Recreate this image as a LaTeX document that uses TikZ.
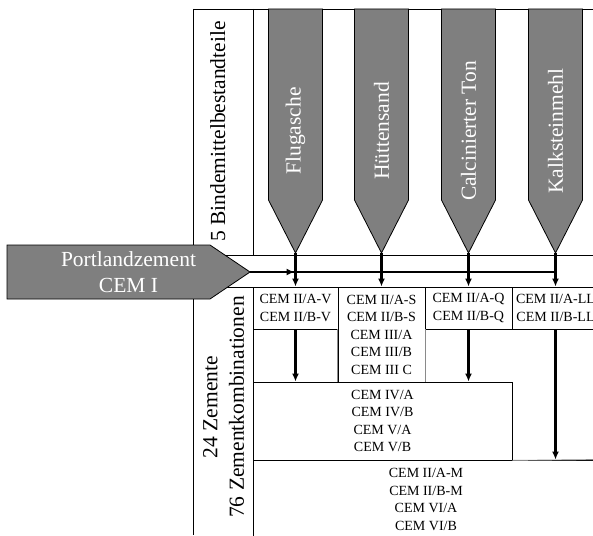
\documentclass[tikz,border=0pt]{standalone}
\usepackage{fontspec}
\setmainfont{Liberation Serif}
\usetikzlibrary{arrows.meta}
\definecolor{chev}{HTML}{7F7F7F}
\definecolor{lgray}{HTML}{8A8A8A}
\begin{document}
\begin{tikzpicture}[x=1pt,y=-1pt,
  grid/.style={line width=0.9pt, draw=black},
  softline/.style={line width=0.9pt, draw=lgray},
  flow/.style={line width=2.2pt},
  flowarrow/.style={line width=2.2pt, -{Latex[length=8pt,width=7pt]}},
  chevshape/.style={fill=chev, draw=black, line width=0.8pt},
  bigtext/.style={font=\fontsize{21.5}{26.5}\selectfont, inner sep=0pt, align=center},
  chevlabel/.style={bigtext, text=white, rotate=90},
  cembox/.style={draw=black, line width=0.9pt, inner sep=0pt, align=center, font=\fontsize{14}{17.5}\selectfont},
]
\useasboundingbox (0,0) rectangle (593,535);
\clip (0,0) rectangle (593,535);

% frame lines
\draw[grid] (193,9) -- (593,9);
\draw[grid] (193,9) -- (193,535);
\draw[grid] (253,9) -- (253,255);
\draw[grid] (193,255) -- (593,255);
\draw[grid] (193,287) -- (593,287);
\draw[grid] (253,287) -- (253,535);

% binder constituent chevrons
\foreach \c/\n/\t in {295.5/fa/Flugasche, 381.5/hs/Hüttensand, 468.5/ct/Calcinierter Ton, 555.5/km/Kalksteinmehl} {
  \draw[chevshape] (\c-27,9) -- (\c+27,9) -- (\c+27,200) -- (\c,253) -- (\c-27,200) -- cycle;
  \node[chevlabel] (\n) at (\c,131) {\t};
  \coordinate (tip-\n) at (\c,253);
}

% section labels
\node[bigtext, rotate=90, anchor=base] (bind) at (225,131.5) {5 Bindemittelbestandteile};
\node[bigtext, rotate=90] (zem) at (223.5,407) {24 Zemente\\76 Zementkombinationen};

% cement boxes
\node[cembox, minimum width=85pt, minimum height=42pt] (b1) at (295.5,308) {CEM II/A-V\\CEM II/B-V};
\node[cembox, minimum width=87pt, minimum height=95pt] (b2) at (381.5,334.5) {CEM II/A-S\\CEM II/B-S\\CEM III/A\\CEM III/B\\CEM III C};
\node[cembox, minimum width=87pt, minimum height=42pt] (b3) at (468.5,308) {CEM II/A-Q\\CEM II/B-Q};
\node[cembox, minimum width=87pt, minimum height=42pt] (b4) at (555.5,308) {CEM II/A-LL\\CEM II/B-LL};
\node[cembox, minimum width=259pt, minimum height=78pt] (b5) at (382.5,421) {CEM IV/A\\CEM IV/B\\CEM V/A\\CEM V/B};
\node[cembox, minimum width=346pt, minimum height=79pt] (b6) at (426,499.5) {CEM II/A-M\\CEM II/B-M\\CEM VI/A\\CEM VI/B};
\draw[softline] (b2.west |- b1.south) -- (b2.south west);
\draw[softline] (b2.east |- b1.south) -- (b2.south east);
\draw[softline] (b5.south east) -- (b6.north east);

% Portland cement arrow
\draw[chevshape] (7,245) -- (210,245) -- (250,272) -- (210,299) -- (7,299) -- cycle;
\node[bigtext, text=white] (pz) at (128.5,272) {Portlandzement\\CEM I};
\coordinate (pztip) at (250,272);

% flows
\draw[flow] (pztip) -- (tip-km |- pztip);
\draw[flowarrow] (pztip) -- ([xshift=-1pt]tip-fa |- pztip);
\foreach \n/\b in {fa/b1, hs/b2, ct/b3, km/b4} {
  \draw[flowarrow] (tip-\n) -- (tip-\n |- \b.north);
}
\draw[flowarrow] (b1.south) -- (b1.south |- b5.north);
\draw[flowarrow] (b3.south) -- (b3.south |- b5.north);
\draw[flowarrow] (b4.south) -- (b4.south |- b6.north);
\end{tikzpicture}
\end{document}
